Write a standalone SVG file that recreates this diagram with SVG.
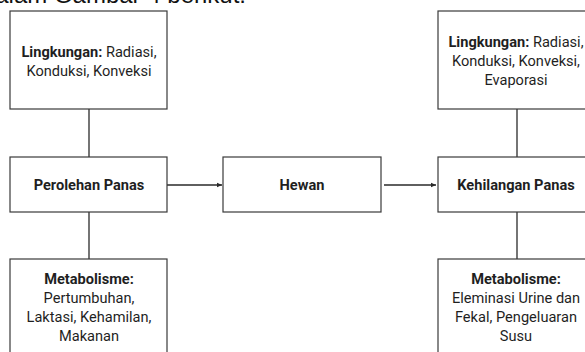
<svg xmlns="http://www.w3.org/2000/svg" width="585" height="352" viewBox="0 0 585 352">
<style>
.box{fill:#fff;stroke:#3a3a3a;stroke-width:1.2}
.t{font-family:Roboto,"Liberation Sans",Arial,sans-serif;font-size:14.6px;fill:#1f1f1f;text-anchor:middle}
.b{font-weight:bold}
.c{stroke:#2a2a2a;stroke-width:1.3;fill:none}
</style>
<defs>
<marker id="ah" markerWidth="6" markerHeight="6" refX="5" refY="3" orient="auto" markerUnits="userSpaceOnUse">
<path d="M0,0.8 L5,3 L0,5.2 Z" fill="#2a2a2a"/>
</marker>
</defs>
<rect width="585" height="352" fill="#fff"/>
<text x="246" y="3" style="font-family:'Liberation Sans',Arial,sans-serif;font-size:24px;fill:#111;text-anchor:end">dalam Gambar 4 berikut:</text>
<g id="connectors">
<line class="c" x1="89" y1="109" x2="89" y2="157"/>
<line class="c" x1="89" y1="212" x2="89" y2="259"/>
<line class="c" x1="517" y1="109" x2="517" y2="157"/>
<line class="c" x1="517" y1="212" x2="517" y2="259"/>
<line class="c" x1="167" y1="185" x2="222" y2="185" marker-end="url(#ah)"/>
<line class="c" x1="384" y1="185" x2="436" y2="185" marker-end="url(#ah)"/>
</g>
<g id="lingkungan-kiri">
<rect class="box" x="10" y="11" width="157" height="98"/>
<text class="t" x="89" y="57"><tspan class="b">Lingkungan:</tspan> Radiasi,</text>
<text class="t" x="89" y="76">Konduksi, Konveksi</text>
</g>
<g id="perolehan">
<rect class="box" x="10" y="157" width="157" height="55"/>
<text class="t b" x="89" y="190">Perolehan Panas</text>
</g>
<g id="metabolisme-kiri">
<rect class="box" x="10" y="259" width="157" height="100"/>
<text class="t b" x="89" y="284">Metabolisme:</text>
<text class="t" x="89" y="303">Pertumbuhan,</text>
<text class="t" x="89" y="322">Laktasi, Kehamilan,</text>
<text class="t" x="89" y="341">Makanan</text>
</g>
<g id="hewan">
<rect class="box" x="223" y="157" width="158" height="55"/>
<text class="t b" x="302" y="190">Hewan</text>
</g>
<g id="lingkungan-kanan">
<rect class="box" x="438" y="11" width="158" height="98"/>
<text class="t" x="516" y="47"><tspan class="b">Lingkungan:</tspan> Radiasi,</text>
<text class="t" x="516" y="66">Konduksi, Konveksi,</text>
<text class="t" x="516" y="85">Evaporasi</text>
</g>
<g id="kehilangan">
<rect class="box" x="438" y="157" width="158" height="55"/>
<text class="t b" x="516" y="190">Kehilangan Panas</text>
</g>
<g id="metabolisme-kanan">
<rect class="box" x="438" y="259" width="158" height="100"/>
<text class="t b" x="516" y="284">Metabolisme:</text>
<text class="t" x="516" y="303">Eleminasi Urine dan</text>
<text class="t" x="516" y="322">Fekal, Pengeluaran</text>
<text class="t" x="516" y="341">Susu</text>
</g>
</svg>
